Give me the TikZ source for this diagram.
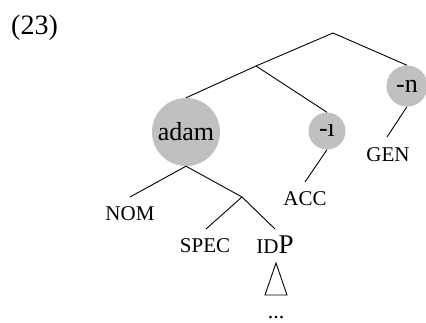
\documentclass[tikz,border=0pt]{standalone}
\usepackage{fontspec}
\setmainfont{Liberation Serif}
\definecolor{circgray}{RGB}{192,192,192}
\begin{document}
\begin{tikzpicture}[x=1pt,y=-1pt,
  branch/.style={line width=0.9pt,black},
  morph/.style={circle,fill=circgray,inner sep=0pt,font=\fontsize{26}{26}\selectfont},
  sclabel/.style={inner sep=0pt,anchor=base,font=\fontsize{21}{21}\selectfont}]
\useasboundingbox (0,0) rectangle (426,323);
% label
\node[inner sep=0pt,anchor=base west,font=\fontsize{28}{28}\selectfont] (num) at (11,35) {(23)};
% junctions
\coordinate (root) at (333,33);
\coordinate (xj) at (256,66);
\coordinate (yj) at (242,197);
% circles
\node[morph,minimum size=68pt] (adam) at (186,132) {adam};
\node[morph,minimum size=37pt] (acc) at (327,131) {-ı};
\node[morph,minimum size=41pt] (gen) at (407,86) {-n};
% line ends
\coordinate (nomtip) at (130,197);
\coordinate (spectip) at (206,229);
\coordinate (idptip) at (275,229);
\coordinate (acctip) at (305,182);
\coordinate (gentip) at (387,137);
% text labels
\node[sclabel] (nom) at (130,221) {NOM};
\node[sclabel] (spec) at (205,253) {SPEC};
\node[sclabel] (idp) at (275,254) {ID{\fontsize{27}{27}\selectfont P}};
\node[sclabel] (acclab) at (305,206) {ACC};
\node[sclabel] (genlab) at (388,162) {GEN};
% triangle
\coordinate (tapex) at (276,263);
\coordinate (tl) at (265,295);
\coordinate (tr) at (287,295);
\node[inner sep=0pt,anchor=base,font=\fontsize{22}{22}\selectfont] (dots) at (276,319) {...};
% branches
\draw[branch] (root) -- (xj);
\draw[branch] (root) -- (gen.north);
\draw[branch] (xj) -- (adam.north);
\draw[branch] (xj) -- (acc.north);
\draw[branch] (adam.south) -- (nomtip);
\draw[branch] (adam.south) -- (yj);
\draw[branch] (yj) -- (spectip);
\draw[branch] (yj) -- (idptip);
\draw[branch] (acc.south) -- (acctip);
\draw[branch] (gen.south) -- (gentip);
\draw[branch,line join=miter] (tapex) -- (tl) -- (tr) -- cycle;
\end{tikzpicture}
\end{document}
